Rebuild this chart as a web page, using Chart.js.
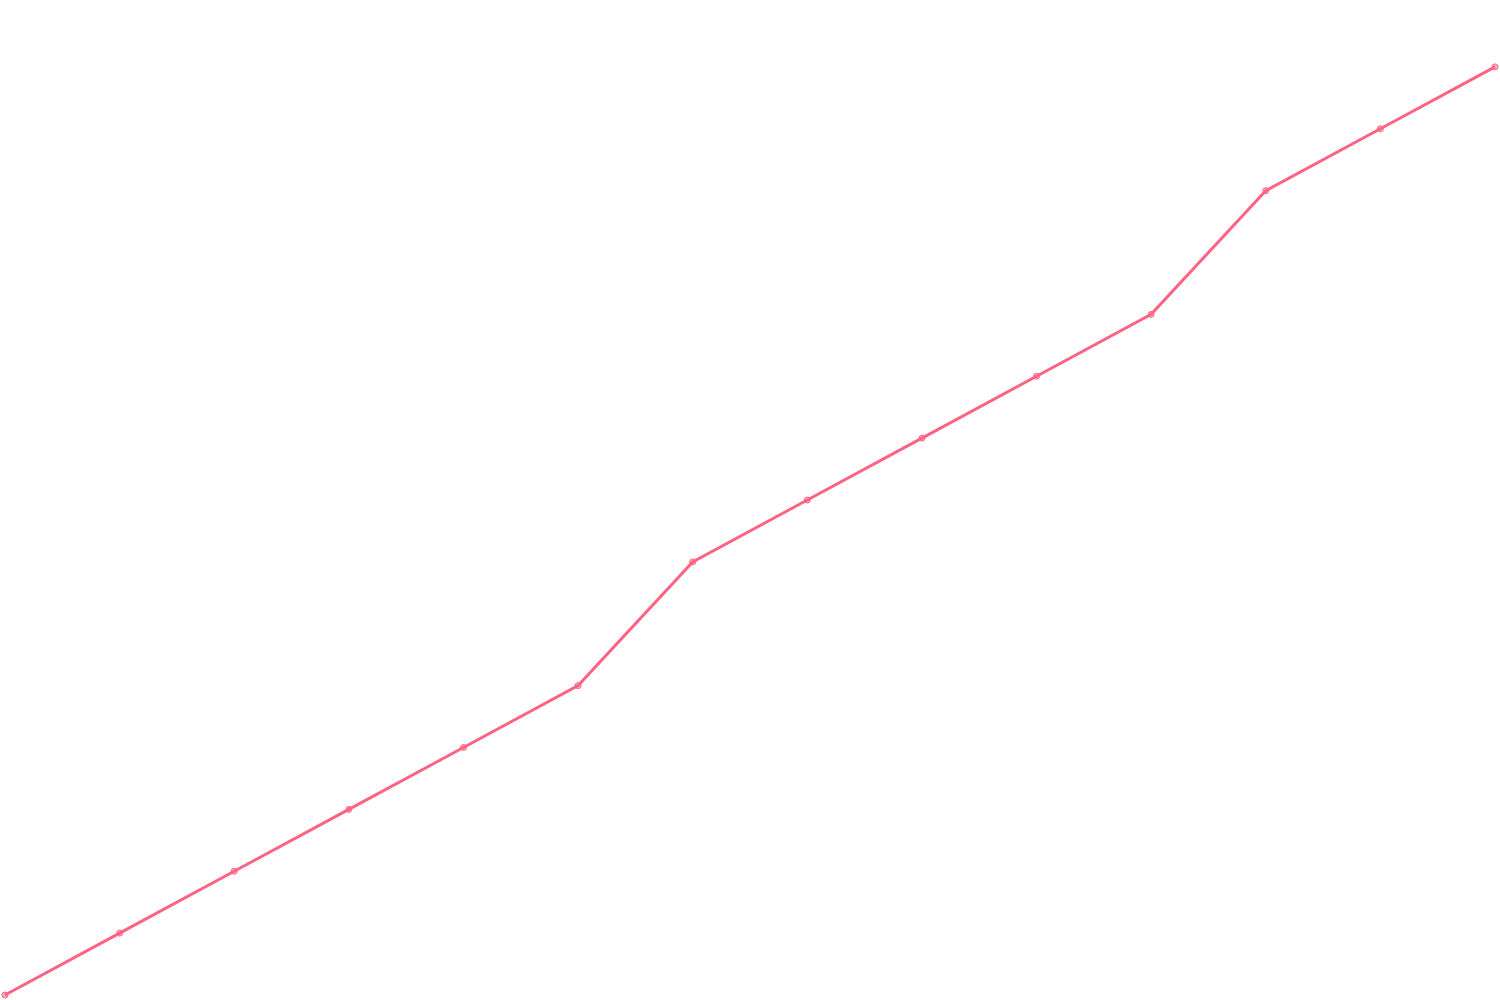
<!DOCTYPE html>
<html>
<head>
<meta charset="utf-8">
<script src="https://cdn.jsdelivr.net/npm/chart.js@4"></script>
<style>
  html, body { margin: 0; padding: 0; background: #fff; }
  #wrap { width: 1500px; height: 1000px; }
</style>
</head>
<body>
<div id="wrap"><canvas id="chart"></canvas></div>
<script>
const labels = ['1', '2', '3', '4', '5', '6', '7', '8', '9', '10', '11', '12', '13', '14']
const values = [0, 1, 2, 3, 4, 5, 7, 8, 9, 10, 11, 13, 14, 15]

const ctx = document.getElementById('chart')
const myChart = new Chart(ctx, {
  type: 'line',
  data: {
    labels: labels,
    datasets: [
      {
        label: 'Series',
        data: values,
        borderColor: 'rgb(255, 99, 132)',
        backgroundColor: 'rgba(255, 99, 132, 0.5)',
        borderWidth: 3,
        pointRadius: 3,
        pointBorderWidth: 1,
        tension: 0
      }
    ]
  },
  options: {
    responsive: true,
    maintainAspectRatio: false,
    animation: false,
    plugins: {
      legend: { display: false },
      tooltip: { enabled: false }
    },
    scales: {
      x: { display: false },
      y: { display: false, beginAtZero: true }
    }
  }
})
</script>
</body>
</html>
